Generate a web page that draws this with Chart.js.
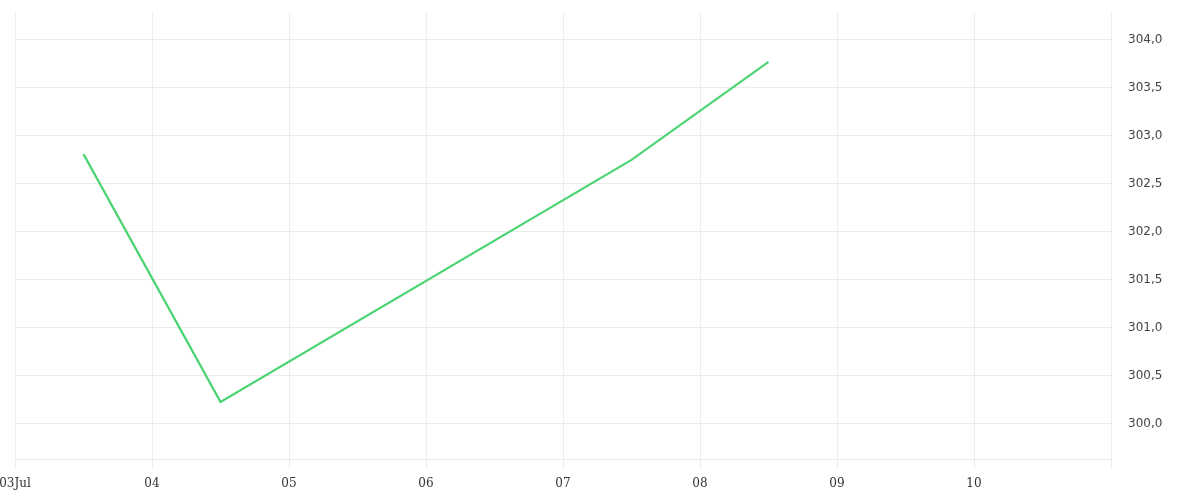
<!DOCTYPE html>
<html>
<head>
<meta charset="utf-8">
<script src="https://cdn.jsdelivr.net/npm/chart.js@4/dist/chart.umd.min.js"></script>
<style>
  html, body { margin: 0; padding: 0; background: #fff; }
  .wrap { width: 1200px; height: 500px; position: relative; }
</style>
</head>
<body>
<div class="wrap"><canvas id="chart"></canvas></div>
<script>
// days of July (12:00 = .5) and the plotted values
const dayPos = [3.5, 4.5, 7.5, 8.5];
const values = [302.81, 300.23, 302.75, 303.77];
// x axis ticks (day of month) and their labels
const xTickValues = [3, 4, 5, 6, 7, 8, 9, 10, 11];
const xTickLabels = ['03Jul', '04', '05', '06', '07', '08', '09', '10', ''];
// y axis ticks
const yTickValues = [300, 300.5, 301, 301.5, 302, 302.5, 303, 303.5, 304];

const points = dayPos.map((d, i) => ({ x: d, y: values[i] }));
const gridColor = '#ececec';

new Chart(document.getElementById('chart'), {
  type: 'line',
  data: {
    datasets: [{
      data: points,
      borderColor: '#4cd473',
      borderWidth: 2.2,
      pointRadius: 0,
      tension: 0,
      fill: false
    }]
  },
  options: {
    responsive: true,
    maintainAspectRatio: false,
    animation: false,
    layout: { padding: { left: 15, top: 13, right: 0, bottom: 0 } },
    plugins: { legend: { display: false }, tooltip: { enabled: false } },
    scales: {
      x: {
        type: 'linear',
        min: 3,
        max: 11,
        afterBuildTicks: (s) => { s.ticks = xTickValues.map(v => ({ value: v })); },
        afterFit: (s) => { s.height = 41; s.paddingLeft = 0; s.paddingRight = 0; },
        ticks: {
          autoSkip: false,
          maxRotation: 0,
          color: '#333',
          font: { family: '"DejaVu Serif", serif', size: 12 },
          padding: 8,
          callback: (v) => xTickLabels[xTickValues.indexOf(v)]
        },
        grid: { color: gridColor, tickLength: 10 },
        border: { color: gridColor }
      },
      y: {
        position: 'right',
        min: 299.635,
        max: 304.28,
        afterBuildTicks: (s) => { s.ticks = yTickValues.map(v => ({ value: v })); },
        afterFit: (s) => { s.width = 89; s.paddingTop = 0; s.paddingBottom = 0; },
        ticks: {
          color: '#444',
          font: { family: '"DejaVu Sans", sans-serif', size: 12 },
          padding: 17,
          callback: (v) => v.toFixed(1).replace('.', ',')
        },
        grid: { color: gridColor, drawTicks: false },
        border: { color: gridColor }
      }
    }
  }
});
</script>
</body>
</html>
